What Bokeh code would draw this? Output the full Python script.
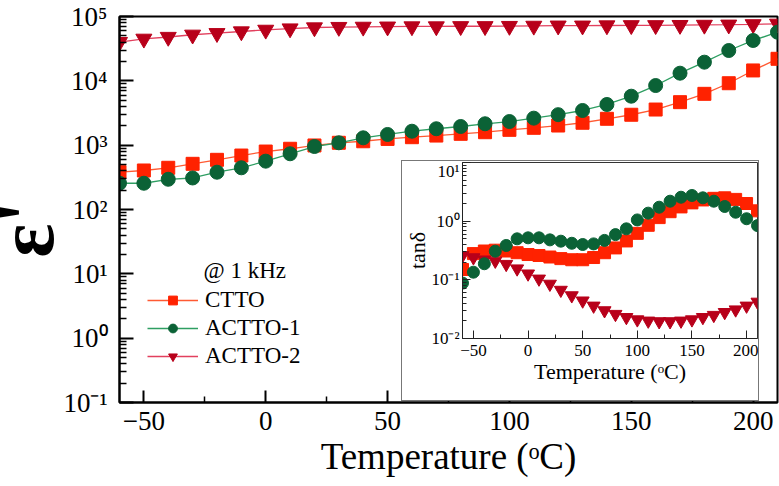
from bokeh.plotting import figure
from bokeh.models import (FixedTicker, Label, Legend, LegendItem, Range1d,
                          CustomJSTickFormatter)
from bokeh.layouts import column
from bokeh.embed import file_html
from bokeh.resources import INLINE

# ---------------- data ----------------
temperature = [-60, -50, -40, -30, -20, -10, 0, 10, 20, 30, 40, 50, 60, 70,
               80, 90, 100, 110, 120, 130, 140, 150, 160, 170, 180, 190, 200, 210]

eps_ctto = [380, 404, 445, 513, 592, 690, 796, 879, 989, 1089, 1150, 1250, 1330, 1410,
            1500, 1590, 1730, 1860, 2020, 2230, 2570, 2970, 3580, 4660, 6280, 9180, 14500, 22000]
eps_actto1 = [256, 256, 295, 309, 380, 445, 564, 735, 953, 1089, 1301, 1466, 1648, 1800,
              1950, 2150, 2330, 2630, 2980, 3460, 4290, 5770, 8450, 13150, 19500, 29600, 42400, 57000]
eps_actto2 = [40000, 45000, 48000, 52000, 55000, 58500, 62000, 65000, 67500, 68500, 69000, 69500, 70000, 70000,
              70500, 70500, 71000, 71500, 72000, 72000, 72500, 73000, 73000, 73500, 74000, 74500, 75500, 77000]

tan_ctto = [0.15, 0.28, 0.31, 0.32, 0.31, 0.29, 0.27, 0.26, 0.245, 0.23, 0.22, 0.22, 0.24, 0.29,
            0.35, 0.46, 0.62, 0.85, 1.15, 1.45, 1.75, 2.05, 2.3, 2.45, 2.5, 2.35, 2.0, 1.5]
tan_actto1 = [0.088, 0.135, 0.188, 0.308, 0.385, 0.50, 0.52, 0.52, 0.48, 0.456, 0.42, 0.40, 0.41, 0.47,
              0.59, 0.74, 1.05, 1.37, 1.73, 2.19, 2.56, 2.74, 2.50, 2.19, 1.78, 1.42, 1.10, 0.84]
tan_actto2 = [0.26, 0.24, 0.22, 0.21, 0.185, 0.155, 0.127, 0.104, 0.085, 0.067, 0.054, 0.044, 0.036, 0.030,
              0.026, 0.023, 0.021, 0.020, 0.0195, 0.0195, 0.020, 0.021, 0.023, 0.025, 0.028, 0.031, 0.036, 0.042]

series_names = ["CTTO", "ACTTO-1", "ACTTO-2"]
x_major_ticks = [-50, 0, 50, 100, 150, 200]
x_minor_ticks = [-25, 25, 75, 125, 175]
eps_decades = [-1, 0, 1, 2, 3, 4, 5]
tan_decades = [-2, -1, 0, 1]
freq_note = "@ 1 kHz"
x_title = "Temperature (ᵒC)"
eps_title = "ε'"
tan_title = "tanδ"

# ---------------- styles ----------------
FONT = "Liberation Serif"
SQ_FILL, SQ_LINE = "#ff2200", "#ff5a33"
CI_FILL, CI_LINE = "#0b6236", "#2e9e62"
TR_FILL, TR_LINE = "#b8001a", "#e2405e"

sup_js = """
const sup = {"-":"\u207b","0":"\u2070","1":"\u00b9","2":"\u00b2","3":"\u00b3",
             "4":"\u2074","5":"\u2075","6":"\u2076","7":"\u2077","8":"\u2078","9":"\u2079"};
const e = Math.round(Math.log10(tick));
return "10" + String(e).split("").map(c => sup[c]).join("");
"""


def log_ticker(decades):
    majors = [10.0 ** k for k in decades]
    minors = [m * 10.0 ** k for k in decades[:-1] for m in range(2, 10)]
    return FixedTicker(ticks=majors, minor_ticks=minors)


# ---------------- main figure ----------------
SHIFT = 40            # whole layout starts this far left of the page edge
W, H = 779 + SHIFT, 486
p = figure(width=W, height=H, x_range=Range1d(-60, 210), y_range=Range1d(0.1, 1e5),
           y_axis_type="log", output_backend="svg", toolbar_location=None,
           min_border_left=119 + SHIFT, min_border_top=16, min_border_right=2,
           min_border_bottom=84)
p.frame_align = False
p.xgrid.visible = False
p.ygrid.visible = False
p.outline_line_color = "black"
p.outline_line_width = 2
p.outline_line_alpha = 1

p.xaxis.ticker = FixedTicker(ticks=x_major_ticks, minor_ticks=x_minor_ticks)
p.yaxis.ticker = log_ticker(eps_decades)
p.yaxis.formatter = CustomJSTickFormatter(code=sup_js)

for ax in [p.xaxis[0], p.yaxis[0]]:
    ax.axis_line_width = 2
    ax.axis_line_color = "black"
    ax.major_tick_line_width = 2
    ax.minor_tick_line_width = 1.5
    ax.major_tick_out = 0
    ax.minor_tick_out = 0
    ax.major_label_text_font = FONT
    ax.major_label_text_font_size = "27px"
    ax.major_label_text_color = "black"
    ax.axis_label_text_font = FONT
    ax.axis_label_text_font_style = "normal"
    ax.axis_label_text_color = "black"
p.yaxis.major_tick_in = 14
p.yaxis.minor_tick_in = 7
p.yaxis.major_label_standoff = 12
p.yaxis.axis_label = eps_title + "\u00a0\u00a0"
p.yaxis.axis_label_text_font_size = "80px"
p.yaxis.axis_label_text_font_style = "bold"
p.yaxis.axis_label_standoff = -10
p.xaxis.major_tick_in = 12
p.xaxis.minor_tick_in = 6
p.xaxis.major_label_standoff = 9
p.xaxis.axis_label = x_title
p.xaxis.axis_label_text_font_size = "37px"
p.xaxis.axis_label_standoff = 3

l1 = p.line(temperature, eps_ctto, line_color=SQ_LINE, line_width=1.3)
m1 = p.scatter(temperature, eps_ctto, marker="square", size=13, fill_color=SQ_FILL, line_color=SQ_FILL)
l3 = p.line(temperature, eps_actto2, line_color=TR_LINE, line_width=1.3)
m3 = p.scatter(temperature, eps_actto2, marker="inverted_triangle", size=16, fill_color=TR_FILL, line_color=TR_FILL)
l2 = p.line(temperature, eps_actto1, line_color=CI_LINE, line_width=1.3)
m2 = p.scatter(temperature, eps_actto1, marker="circle", size=14, fill_color=CI_FILL, line_color=CI_FILL)

legend = Legend(items=[LegendItem(label=series_names[0], renderers=[l1, m1]),
                       LegendItem(label=series_names[1], renderers=[l2, m2]),
                       LegendItem(label=series_names[2], renderers=[l3, m3])],
                location=(28, 33))
legend.background_fill_alpha = 0
legend.border_line_color = None
legend.label_text_font = FONT
legend.label_text_font_size = "23px"
legend.label_text_color = "black"
legend.glyph_width = 51
legend.glyph_height = 22
legend.label_height = 22
legend.label_standoff = 7
legend.spacing = 2
legend.padding = 0
legend.margin = 0
p.add_layout(legend)

p.add_layout(Label(x=84, y=132, x_units="screen", y_units="screen", text=freq_note,
                   text_font=FONT, text_font_size="23px", text_baseline="middle",
                   text_align="left", text_color="black"))

# ---------------- inset ----------------
inset = figure(width=356, height=239, x_range=Range1d(-60, 210), y_range=Range1d(0.01, 10),
               y_axis_type="log", output_backend="svg", toolbar_location=None,
               min_border_left=59, min_border_top=1, min_border_right=1, min_border_bottom=62)
inset.frame_align = False
inset.xgrid.visible = False
inset.ygrid.visible = False
inset.outline_line_color = "#333333"
inset.outline_line_width = 1
inset.outline_line_alpha = 1
inset.xaxis.ticker = FixedTicker(ticks=x_major_ticks, minor_ticks=x_minor_ticks)
inset.yaxis.ticker = log_ticker(tan_decades)
inset.yaxis.formatter = CustomJSTickFormatter(code=sup_js)
for ax in [inset.xaxis[0], inset.yaxis[0]]:
    ax.axis_line_width = 1
    ax.axis_line_color = "#222222"
    ax.major_tick_line_width = 1
    ax.minor_tick_line_width = 1
    ax.major_tick_line_color = "#222222"
    ax.minor_tick_line_color = "#222222"
    ax.major_tick_out = 0
    ax.minor_tick_out = 0
    ax.major_tick_in = 8
    ax.minor_tick_in = 4
    ax.major_label_text_font = FONT
    ax.major_label_text_font_size = "17px"
    ax.major_label_text_color = "black"
    ax.axis_label_text_font = FONT
    ax.axis_label_text_font_size = "22px"
    ax.axis_label_text_font_style = "normal"
    ax.axis_label_text_color = "black"
inset.xaxis.major_label_standoff = 6
inset.xaxis.axis_label = x_title
inset.xaxis.axis_label_standoff = 0
inset.yaxis.major_label_standoff = 3
inset.yaxis.axis_label = tan_title
inset.yaxis.axis_label_standoff = -2

inset.scatter(temperature, tan_ctto, marker="square", size=12, fill_color=SQ_FILL, line_color=SQ_FILL)
inset.scatter(temperature, tan_actto2, marker="inverted_triangle", size=13, fill_color=TR_FILL, line_color=TR_FILL)
inset.scatter(temperature, tan_actto1, marker="circle", size=12, fill_color=CI_FILL, line_color=CI_FILL)

inset.margin = (161 - H, 0, 0, 402 + SHIFT)
inset.styles = {"outline": "1px solid #777777"}

layout = column(p, inset, width=W)
layout.margin = (0, 0, 0, -SHIFT)
open("out.html", "w").write(file_html(layout, INLINE))
